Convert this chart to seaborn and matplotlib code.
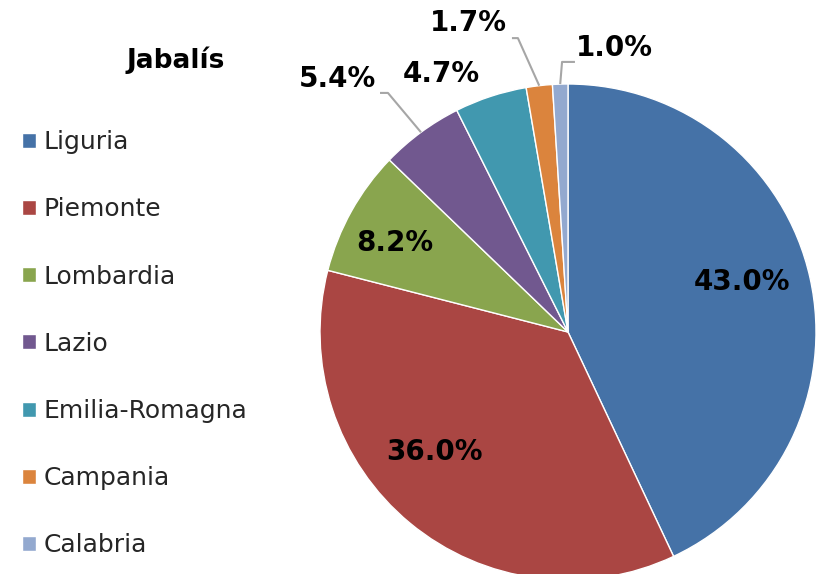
import numpy as np
import matplotlib
matplotlib.use("Agg")
import matplotlib.pyplot as plt
import seaborn as sns

# data
regions = ["Liguria", "Piemonte", "Lombardia", "Lazio",
           "Emilia-Romagna", "Campania", "Calabria"]
shares = [43.0, 36.0, 8.2, 5.4, 4.7, 1.7, 1.0]
colors = ["#4572A7", "#AA4643", "#89A54E", "#71588F",
          "#4198AF", "#DB843D", "#93A9CF"]
title = "Jabalís"

sns.set_theme(style="white")
plt.rcParams["font.family"] = ["DejaVu Sans"]

W, H = 818, 574
fig = plt.figure(figsize=(W / 100, H / 100), dpi=100)
fig.patch.set_facecolor("white")

# pie centre (568, 332) px, radius 248 px
cx, cy, r = 568, 332, 248
ax = fig.add_axes([(cx - r) / W, (H - cy - r) / H, 2 * r / W, 2 * r / H])

wedges, _, autotexts = ax.pie(
    shares, colors=colors, startangle=90, counterclock=False,
    autopct="%.1f%%", pctdistance=0.74,
    wedgeprops=dict(edgecolor="white", linewidth=1),
    textprops=dict(fontsize=20, fontweight="bold", color="black"),
)
ax.set_xlim(-1, 1)
ax.set_ylim(-1, 1)
ax.set_aspect("equal")
ax.axis("off")

# label placement (data units) as in the reference; small slices sit
# outside, some with grey leader lines (elbow, end), None = no leader
label_pos = [(0.70, 0.20), (-0.54, -0.484), (-0.70, 0.36),
             (-0.93, 1.02), (-0.51, 1.04), (-0.40, 1.245), (0.185, 1.145)]
leaders = {
    3: ((-0.726, 0.964), (-0.758, 0.964)),
    5: ((-0.202, 1.185), (-0.226, 1.185)),
    6: ((-0.024, 1.089), (0.028, 1.089)),
}
for i, pos in enumerate(label_pos):
    autotexts[i].set_position(pos)
    autotexts[i].set_clip_on(False)
for i, (elbow, end) in leaders.items():
    w = wedges[i]
    ang = np.deg2rad((w.theta1 + w.theta2) / 2)
    edge = (np.cos(ang), np.sin(ang))
    ax.plot([edge[0], elbow[0], end[0]], [edge[1], elbow[1], end[1]],
            color="#A6A6A6", lw=1.5, clip_on=False, solid_capstyle="butt")

fig.text(176 / W, 1 - 60 / H, title, ha="center", va="center",
         fontsize=19, fontweight="bold", color="black")

fig.legend(wedges, regions, loc="upper left",
           bbox_to_anchor=(22 / W, 1 - 130 / H), frameon=False,
           fontsize=18, labelspacing=1.73, handlelength=0.55,
           handleheight=0.55, handletextpad=0.3, borderpad=0,
           borderaxespad=0, labelcolor="#262626")

fig.savefig("out.png", dpi=100, facecolor="white")
